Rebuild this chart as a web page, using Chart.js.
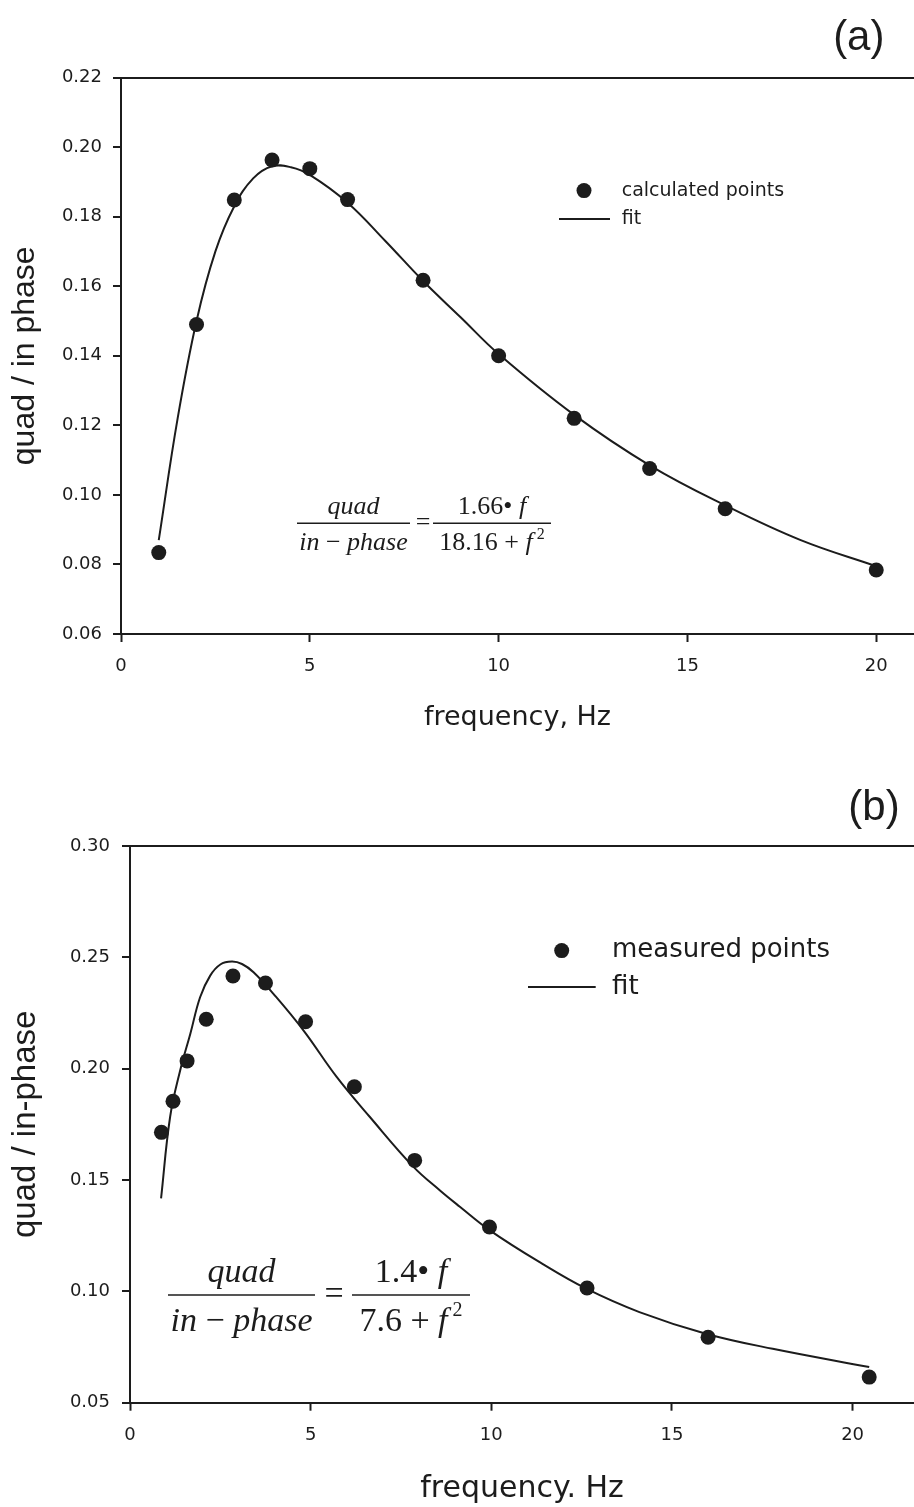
<!DOCTYPE html>
<html>
<head>
<meta charset="utf-8">
<script src="https://cdn.jsdelivr.net/npm/chart.js@4.4.1/dist/chart.umd.min.js"></script>
<style>
  html, body { margin: 0; padding: 0; background: #fff; }
  #wrap { position: relative; width: 914px; height: 1507px; overflow: hidden; }
  canvas { position: absolute; left: 0; }
</style>
</head>
<body>
<div id="wrap">
  <canvas id="chartA" width="914" height="740" style="top:0"></canvas>
  <canvas id="chartB" width="914" height="767" style="top:740px"></canvas>
</div>
<script>
// panel (a): calculated points and fit
const calcFreq  = [1, 2, 3, 4, 5, 6, 8, 10, 12, 14, 16, 20];
const calcRatio = [0.0834, 0.149, 0.1848, 0.1963, 0.1938, 0.1849, 0.1617, 0.1400, 0.1220, 0.1076, 0.0960, 0.0784];
const fitAFreq  = [1, 1.5, 2, 2.5, 3, 3.5, 4, 4.5, 5, 6, 7, 8, 9, 10, 12, 14, 16, 18, 20];
const fitARatio = [0.087, 0.122, 0.150, 0.170, 0.183, 0.191, 0.1945, 0.1942, 0.192, 0.184, 0.173, 0.1615, 0.151, 0.1405, 0.123, 0.1085, 0.097, 0.087, 0.0795];

// panel (b): measured points and fit
const measFreq  = [0.87, 1.19, 1.58, 2.11, 2.85, 3.75, 4.86, 6.21, 7.88, 9.95, 12.65, 16.0, 20.46];
const measRatio = [0.1714, 0.1854, 0.2035, 0.2222, 0.2416, 0.2385, 0.2211, 0.1919, 0.1588, 0.1289, 0.1015, 0.0794, 0.0615];
const fitBFreq  = [0.86, 1.11, 1.39, 1.67, 1.94, 2.22, 2.5, 2.82, 3.1, 3.42, 3.97, 4.8, 5.72, 6.64, 7.84, 8.58, 9.13, 9.96, 11.34, 12.63, 14.1, 15.94, 17.79, 20.46];
const fitBRatio = [0.1418, 0.1783, 0.1993, 0.2157, 0.2321, 0.2418, 0.2468, 0.2481, 0.2470, 0.2433, 0.2336, 0.2172, 0.1963, 0.1783, 0.156, 0.1453, 0.138, 0.1274, 0.1131, 0.1012, 0.0907, 0.081, 0.0742, 0.066];

// axis ranges / tick steps
const xTicksA = [0, 21, 5];
const yTicksA = [0.06, 0.22, 0.02];
const xTicksB = [0, 21.7, 5];
const yTicksB = [0.05, 0.30, 0.05];

const INK = '#1c1c1c';
const SANS = '"DejaVu Sans", sans-serif';
const ARIAL = '"Liberation Sans", Arial, sans-serif';
const SERIF = '"Liberation Serif", "Times New Roman", serif';

function pts(xs, ys) {
  return xs.map((x, i) => ({ x: x, y: ys[i] }));
}

// draw a row of text pieces (italic / upright / superscript) centred on cx
function drawPieces(ctx, pieces, cx, baseline, size) {
  const fontOf = p => (p.it ? 'italic ' : '') + (p.sup ? Math.round(size * 0.6) : size) + 'px ' + SERIF;
  let total = 0;
  pieces.forEach(p => { ctx.font = fontOf(p); total += ctx.measureText(p.t).width; });
  let x = cx - total / 2;
  ctx.textAlign = 'left';
  ctx.textBaseline = 'alphabetic';
  pieces.forEach(p => {
    ctx.font = fontOf(p);
    ctx.fillText(p.t, x, p.sup ? baseline - size * 0.42 : baseline);
    x += ctx.measureText(p.t).width;
  });
}

function drawEquation(ctx, eq) {
  const s = eq.size;
  ctx.fillStyle = INK;
  ctx.strokeStyle = INK;
  ctx.lineWidth = 1.5;
  [eq.left, eq.right].forEach(fr => {
    ctx.beginPath();
    ctx.moveTo(fr.x0, eq.bar);
    ctx.lineTo(fr.x1, eq.bar);
    ctx.stroke();
    const cx = (fr.x0 + fr.x1) / 2;
    drawPieces(ctx, fr.num, cx, eq.numBase, s);
    drawPieces(ctx, fr.den, cx, eq.denBase, s);
  });
  ctx.font = s + 'px ' + SERIF;
  ctx.textAlign = 'center';
  ctx.textBaseline = 'alphabetic';
  ctx.fillText('=', eq.eqX, eq.bar + s * 0.25);
}

function drawLegend(ctx, chart, lg) {
  const dotDs = chart.data.datasets[0];
  const lineDs = chart.data.datasets[1];
  ctx.fillStyle = dotDs.pointBackgroundColor;
  ctx.beginPath();
  ctx.arc(lg.dotX, lg.dotY, dotDs.pointRadius, 0, Math.PI * 2);
  ctx.fill();
  ctx.strokeStyle = lineDs.borderColor;
  ctx.lineWidth = lineDs.borderWidth;
  ctx.beginPath();
  ctx.moveTo(lg.lineX0, lg.lineY);
  ctx.lineTo(lg.lineX1, lg.lineY);
  ctx.stroke();
  ctx.fillStyle = INK;
  ctx.font = lg.size + 'px ' + SANS;
  ctx.textAlign = 'left';
  ctx.textBaseline = 'middle';
  ctx.fillText(dotDs.label, lg.textX, lg.dotY);
  ctx.fillText(lineDs.label, lg.textX, lg.lineY);
}

function overlayPlugin(cfg) {
  return {
    id: 'overlay',
    afterDraw(chart) {
      const ctx = chart.ctx;
      ctx.save();
      drawLegend(ctx, chart, cfg.legend);
      drawEquation(ctx, cfg.eq);
      ctx.fillStyle = INK;
      ctx.font = cfg.tag.size + 'px ' + ARIAL;
      ctx.textAlign = 'center';
      ctx.textBaseline = 'middle';
      ctx.fillText(cfg.tag.text, cfg.tag.x, cfg.tag.y);
      ctx.restore();
    }
  };
}

function makeChart(id, p) {
  const [xMin, xMax, xStep] = p.xTicks;
  const [yMin, yMax, yStep] = p.yTicks;
  return new Chart(document.getElementById(id), {
    type: 'scatter',
    data: {
      datasets: [
        {
          label: p.pointLabel,
          data: pts(p.px, p.py),
          showLine: false,
          pointRadius: 7.5,
          pointBackgroundColor: INK,
          pointBorderWidth: 0
        },
        {
          label: 'fit',
          data: pts(p.lx, p.ly),
          showLine: true,
          pointRadius: 0,
          borderColor: INK,
          borderWidth: 2,
          tension: 0.4
        }
      ]
    },
    options: {
      responsive: false,
      animation: false,
      events: [],
      layout: { autoPadding: false, padding: { top: p.top, left: 0, right: 0, bottom: 0 } },
      plugins: { legend: { display: false }, tooltip: { enabled: false } },
      scales: {
        x: {
          type: 'linear',
          min: xMin, max: xMax,
          afterFit: s => { s.height = p.xHeight; s.paddingLeft = 0; s.paddingRight = 0; },
          border: { display: true, color: INK, width: 2 },
          grid: { drawOnChartArea: false, tickLength: 8, tickColor: INK, tickWidth: 2 },
          ticks: {
            stepSize: xStep, includeBounds: false, padding: p.xPad,
            color: INK, font: { family: SANS, size: 18 },
            maxRotation: 0,
            callback: v => String(v)
          },
          title: {
            display: true, text: p.xTitle, color: INK,
            font: { family: SANS, size: p.xTitleSize },
            padding: { top: 0, bottom: p.xTitlePad }
          }
        },
        y: {
          type: 'linear',
          min: yMin, max: yMax,
          afterFit: s => { s.width = p.yWidth; s.paddingLeft = 0; s.paddingRight = 0; },
          border: { display: true, color: INK, width: 2 },
          grid: {
            drawOnChartArea: true,
            tickLength: 8,
            lineWidth: 2,
            tickWidth: 2,
            tickColor: INK,
            color: c => (c.tick && Math.abs(c.tick.value - yMax) < 1e-9) ? INK : 'rgba(0,0,0,0)'
          },
          ticks: {
            stepSize: yStep, padding: p.yPad,
            color: INK, font: { family: SANS, size: 18 },
            callback: v => v.toFixed(2)
          },
          title: {
            display: true, text: p.yTitle, color: INK,
            font: { family: ARIAL, size: p.yTitleSize },
            padding: { top: 6, bottom: 0 }
          }
        }
      }
    },
    plugins: [overlayPlugin(p.overlay)]
  });
}

makeChart('chartA', {
  px: calcFreq, py: calcRatio, lx: fitAFreq, ly: fitARatio,
  pointLabel: 'calculated points',
  xTicks: xTicksA, yTicks: yTicksA,
  top: 77.5, xHeight: 106, yWidth: 121, xPad: 14, yPad: 11,
  xTitle: 'frequency, Hz', xTitleSize: 27, xTitlePad: 6,
  yTitle: 'quad / in phase', yTitleSize: 32,
  overlay: {
    legend: { dotX: 584, dotY: 190.6, lineX0: 559, lineX1: 610, lineY: 219, textX: 621.7, size: 19 },
    tag: { text: '(a)', x: 858.8, y: 38, size: 42 },
    eq: {
      size: 26, bar: 523.3, numBase: 514, denBase: 550, eqX: 423,
      left: {
        x0: 297, x1: 410,
        num: [{ t: 'quad', it: true }],
        den: [{ t: 'in', it: true }, { t: ' \u2212 ' }, { t: 'phase', it: true }]
      },
      right: {
        x0: 433, x1: 551,
        num: [{ t: '1.66' }, { t: '\u2022' }, { t: ' f', it: true }],
        den: [{ t: '18.16' }, { t: ' + ' }, { t: 'f', it: true }, { t: ' 2', sup: true }]
      }
    }
  }
});

makeChart('chartB', {
  px: measFreq, py: measRatio, lx: fitBFreq, ly: fitBRatio,
  pointLabel: 'measured points',
  xTicks: xTicksB, yTicks: yTicksB,
  top: 106, xHeight: 104.3, yWidth: 130, xPad: 14, yPad: 12,
  xTitle: 'frequency. Hz', xTitleSize: 30, xTitlePad: 0,
  yTitle: 'quad / in-phase', yTitleSize: 33,
  overlay: {
    legend: { dotX: 561.7, dotY: 210.6, lineX0: 528, lineX1: 595.7, lineY: 247, textX: 612, size: 26 },
    tag: { text: '(b)', x: 874, y: 68, size: 42 },
    eq: {
      size: 34, bar: 555, numBase: 541.7, denBase: 590.7, eqX: 334,
      left: {
        x0: 168, x1: 315,
        num: [{ t: 'quad', it: true }],
        den: [{ t: 'in', it: true }, { t: ' \u2212 ' }, { t: 'phase', it: true }]
      },
      right: {
        x0: 352, x1: 470,
        num: [{ t: '1.4' }, { t: '\u2022' }, { t: ' f', it: true }],
        den: [{ t: '7.6' }, { t: ' + ' }, { t: 'f', it: true }, { t: ' 2', sup: true }]
      }
    }
  }
});
</script>
</body>
</html>
